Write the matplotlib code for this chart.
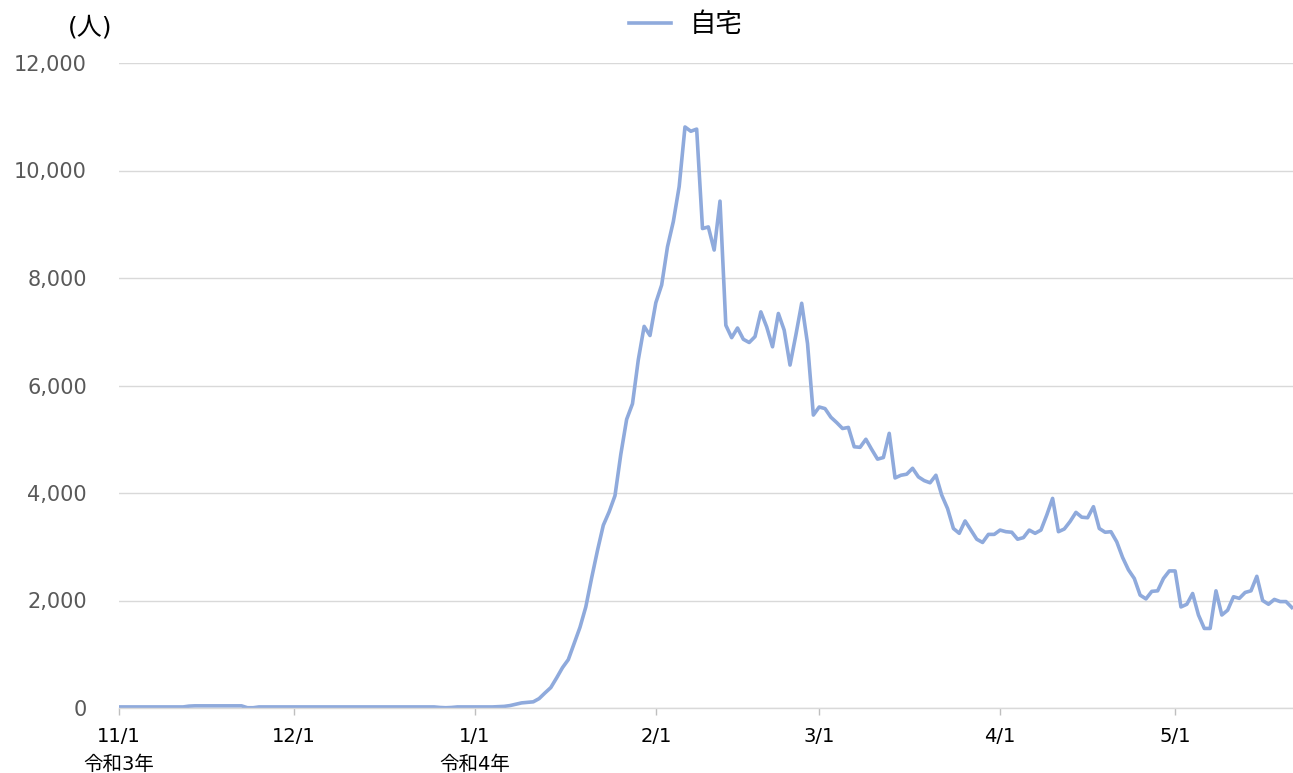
import matplotlib
matplotlib.use("Agg")
import matplotlib.pyplot as plt
import matplotlib.dates as mdates
import pandas as pd

plt.rcParams['font.family'] = ['DejaVu Sans', 'Noto Sans CJK JP']

# daily counts (人), 2021/11/1 - 2022/5/21
nov = [20, 20, 20, 20, 20, 20, 20, 20, 20, 20, 20, 20, 35, 40, 40, 40, 40, 40, 40, 40,
       40, 40, 5, 5, 20, 20, 20, 20, 20, 20]
dec = [20, 20, 20, 20, 20, 20, 20, 20, 20, 20, 20, 20, 20, 20, 20, 20, 20, 20, 20, 20,
       20, 20, 20, 20, 20, 10, 5, 10, 20, 20, 20]
jan = [20, 20, 20, 20, 25, 30, 45, 70, 95, 105, 115, 175, 280, 380, 560, 750, 900, 1200,
       1500, 1880, 2420, 2930, 3400, 3650, 3950, 4720, 5370, 5660, 6480, 7100, 6930]
feb = [7540, 7870, 8580, 9050, 9700, 10810, 10730, 10770, 8920, 8950, 8520, 9430, 7120,
       6890, 7070, 6860, 6800, 6910, 7370, 7090, 6720, 7340, 7030, 6380, 6940, 7530, 6780,
       5450]
mar = [5600, 5570, 5410, 5310, 5200, 5220, 4860, 4850, 5000, 4810, 4630, 4660, 5110, 4280,
       4330, 4350, 4460, 4300, 4230, 4190, 4330, 3960, 3710, 3340, 3250, 3480, 3310, 3140,
       3080, 3230, 3230]
apr = [3310, 3280, 3270, 3140, 3170, 3310, 3250, 3310, 3590, 3900, 3280, 3330, 3470, 3640,
       3550, 3540, 3745, 3340, 3270, 3280, 3090, 2800, 2570, 2410, 2100, 2030, 2170, 2180,
       2410, 2550]
may = [2550, 1880, 1930, 2130, 1730, 1480, 1480, 2180, 1730, 1820, 2070, 2040, 2150, 2180,
       2450, 2000, 1930, 2020, 1980, 1980, 1870]

values = nov + dec + jan + feb + mar + apr + may
dates = pd.date_range("2021-11-01", periods=len(values), freq="D")

tick_dates = pd.to_datetime(["2021-11-01", "2021-12-01", "2022-01-01", "2022-02-01",
                             "2022-03-01", "2022-04-01", "2022-05-01"])
tick_labels = ["11/1", "12/1", "1/1", "2/1", "3/1", "4/1", "5/1"]
era_dates = pd.to_datetime(["2021-11-01", "2022-01-01"])
era_labels = ["令和3年", "令和4年"]
series_name = "自宅"

fig = plt.figure(figsize=(12.93, 7.73), dpi=100)
ax = fig.add_axes([119 / 1293, 65 / 773, 1174 / 1293, 645 / 773])

ax.plot(dates, values, color="#8faadc", linewidth=2.6, label=series_name)

ax.set_ylim(0, 12000)
ax.set_yticks(range(0, 12001, 2000))
ax.yaxis.set_major_formatter(matplotlib.ticker.FuncFormatter(lambda v, p: f"{int(v):,}"))
ax.tick_params(axis="y", length=0, pad=23, labelsize=15, labelcolor="#595959")
ax.grid(True, axis="y", color="#d9d9d9", linewidth=1)

x0 = mdates.date2num(dates[0])
ax.set_xlim(x0, x0 + 201.2)
ax.set_xticks(tick_dates)
ax.set_xticklabels(tick_labels, fontsize=14)
ax.tick_params(axis="x", direction="out", length=5, width=1, color="#bfbfbf",
               pad=9, labelcolor="#000000")

# era labels under the month ticks
for d, lab in zip(era_dates, era_labels):
    ax.annotate(lab, xy=(d, 0), xycoords=("data", "axes fraction"),
                xytext=(0, -34), textcoords="offset points",
                ha="center", va="top", fontsize=14, annotation_clip=False)

for s in ["top", "right", "left"]:
    ax.spines[s].set_visible(False)
ax.spines["bottom"].set_color("#d9d9d9")
ax.spines["bottom"].set_linewidth(1)
ax.set_axisbelow(True)

fig.text(90 / 1293, 1 - 28 / 773, "(人)", ha="center", va="center", fontsize=18)
fig.legend(loc="center", bbox_to_anchor=(686 / 1293, 1 - 25 / 773), frameon=False,
           fontsize=19, handlelength=1.6, handletextpad=0.7)

plt.savefig("out.png", dpi=100)
